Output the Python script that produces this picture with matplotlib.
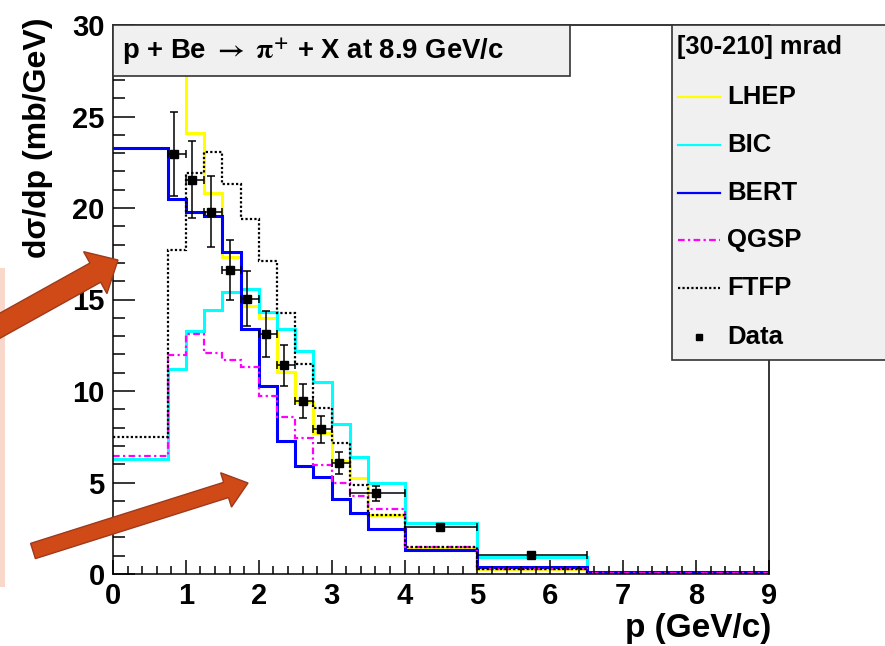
import numpy as np
import matplotlib
matplotlib.use("Agg")
import matplotlib.pyplot as plt
from matplotlib.patches import Rectangle, FancyArrow
from matplotlib.lines import Line2D

plt.rcParams['font.family'] = ['Liberation Sans', 'DejaVu Sans']
plt.rcParams['font.weight'] = 'bold'
plt.rcParams['mathtext.fontset'] = 'stix'

# momentum binning of the MC histograms (GeV/c)
edges = [0, 0.75, 1.0, 1.25, 1.5, 1.75, 2.0, 2.25, 2.5, 2.75, 3.0, 3.25, 3.5, 4.0, 5.0, 6.5, 9.0]

# dsigma/dp (mb/GeV) per model
lhep = [28.5, 29.5, 24.1, 20.8, 17.3, 14.65, 14.0, 11.05, 9.4, 7.7, 6.15, 5.25, 3.2, 1.4, 0.27, 0.02]
bic = [6.3, 11.2, 13.3, 14.45, 15.4, 15.55, 14.3, 13.4, 12.2, 10.5, 8.2, 6.4, 5.0, 2.8, 0.95, 0.05]
bert = [23.3, 20.5, 19.8, 19.55, 17.6, 13.4, 10.3, 7.25, 5.9, 5.3, 4.1, 3.35, 2.45, 1.3, 0.4, 0.1]
qgsp = [6.45, 11.95, 13.1, 12.05, 11.7, 11.3, 9.7, 8.6, 7.45, 5.95, 5.0, 4.27, 3.54, 1.5, 0.3, 0.03]
ftfp = [7.5, 17.7, 21.9, 23.05, 21.3, 19.4, 17.1, 14.25, 11.45, 9.05, 7.15, 4.85, 3.25, 1.45, 0.3, 0.02]

# HARP data points
data_p = np.array([0.84, 1.09, 1.35, 1.60, 1.84, 2.10, 2.35, 2.61, 2.86, 3.10, 3.61, 4.49, 5.74])
data_lo = np.array([0.75, 1.0, 1.25, 1.5, 1.75, 2.0, 2.25, 2.5, 2.75, 3.0, 3.25, 4.0, 5.0])
data_hi = np.array([1.0, 1.25, 1.5, 1.75, 2.0, 2.25, 2.5, 2.75, 3.0, 3.25, 4.0, 5.0, 6.5])
data_xs = np.array([22.95, 21.55, 19.8, 16.6, 15.05, 13.1, 11.4, 9.45, 7.9, 6.05, 4.4, 2.55, 1.05])
data_err = np.array([2.3, 2.1, 1.95, 1.65, 1.5, 1.25, 1.1, 0.92, 0.75, 0.6, 0.4, 0.12, 0.08])

models = [
    ("LHEP", lhep, "#ffff00", "-", 2.2),
    ("BIC", bic, "#00ffff", "-", 2.2),
    ("BERT", bert, "#0000ff", "-", 2.2),
    ("QGSP", qgsp, "#ff00ff", (0, (3, 1.5, 1, 1.5)), 1.6),
    ("FTFP", ftfp, "black", (0, (1, 1)), 1.6),
]

W, H = 885, 646
fig = plt.figure(figsize=(W / 100, H / 100), dpi=100)


def fx(x):
    return x / W


def fy(y):
    return 1 - y / H


ax = fig.add_axes([fx(113), fy(574), (769 - 113) / W, (574 - 25) / H])

for name, vals, col, ls, lw in models:
    ax.stairs(vals, edges, color=col, linestyle=ls, linewidth=lw, baseline=None)

ax.errorbar(data_p, data_xs, xerr=[data_p - data_lo, data_hi - data_p], yerr=data_err,
            fmt='s', color='black', ms=6, elinewidth=1.1, capsize=3, capthick=1.1, zorder=5)

ax.set_xlim(0, 9)
ax.set_ylim(0, 30)
ax.set_xticks(np.arange(0, 10, 1))
ax.set_xticks(np.arange(0, 9.01, 0.2), minor=True)
ax.set_yticks(np.arange(0, 31, 5))
ax.set_yticks(np.arange(0, 31, 1), minor=True)
ax.tick_params(axis='y', which='major', direction='in', length=16, width=1.1, labelsize=21, pad=6)
ax.tick_params(axis='y', which='minor', direction='in', length=8.5, width=1.1)
ax.tick_params(axis='x', which='major', direction='in', length=10, width=1.1, labelsize=21, pad=6)
ax.tick_params(axis='x', which='minor', direction='in', length=5.5, width=1.1)
for s in ax.spines.values():
    s.set_linewidth(1.1)

fig.text(fx(38), fy(18), "dσ/dp (mb/GeV)", rotation=90, ha='center', va='top', fontsize=23)
fig.text(fx(771), fy(628), "p (GeV/c)", ha='right', va='center', fontsize=24)

# title box
fig.patches.append(Rectangle((fx(113), fy(76)), fx(570) - fx(113), fy(25) - fy(76),
                             transform=fig.transFigure, facecolor='#f0f0f0',
                             edgecolor='#333333', lw=1.2, zorder=10))
fig.text(fx(122), fy(51), r"p + Be $\rightarrow$ $\mathrm{\pi}^{\mathbf{+}}$ + X at 8.9 GeV/c",
         ha='left', va='center', fontsize=19.8, zorder=11)

# legend box
fig.patches.append(Rectangle((fx(672), fy(360)), fx(900) - fx(672), fy(25) - fy(360),
                             transform=fig.transFigure, facecolor='#f0f0f0',
                             edgecolor='#333333', lw=1.2, zorder=10))
fig.text(fx(677), fy(47), "[30-210] mrad", ha='left', va='center', fontsize=18.3, zorder=11)
rows = [97, 145, 193, 240, 288]
for (name, vals, col, ls, lw), yy in zip(models, rows):
    fig.add_artist(Line2D([fx(678), fx(720)], [fy(yy), fy(yy)], color=col, linestyle=ls,
                          linewidth=lw if lw < 2 else 1.6, zorder=11))
    fig.text(fx(727), fy(yy), name, ha='left', va='center', fontsize=18.5, zorder=11)
fig.add_artist(Line2D([fx(699)], [fy(337)], marker='s', color='black', ms=5, zorder=11))
fig.text(fx(727), fy(337), "Data", ha='left', va='center', fontsize=18.5, zorder=11)

# slide decorations: side band and pointer arrows
fig.patches.append(Rectangle((0, fy(587)), fx(5), fy(268) - fy(587), transform=fig.transFigure,
                             facecolor='#f9d8cc', edgecolor='none', zorder=1))
arrow_kw = dict(transform=fig.dpi_scale_trans, facecolor='#d04a17', edgecolor='#9e3a1c',
                lw=1.0, length_includes_head=True, zorder=20)
fig.patches.append(FancyArrow(-0.15, (H - 334) / 100, (118 + 15) / 100, (334 - 260) / 100,
                              width=0.22, head_width=0.48, head_length=0.26, **arrow_kw))
fig.patches.append(FancyArrow(33 / 100, (H - 551) / 100, (248 - 33) / 100, (551 - 483) / 100,
                              width=0.16, head_width=0.36, head_length=0.23, **arrow_kw))

fig.savefig("out.png", dpi=100)
